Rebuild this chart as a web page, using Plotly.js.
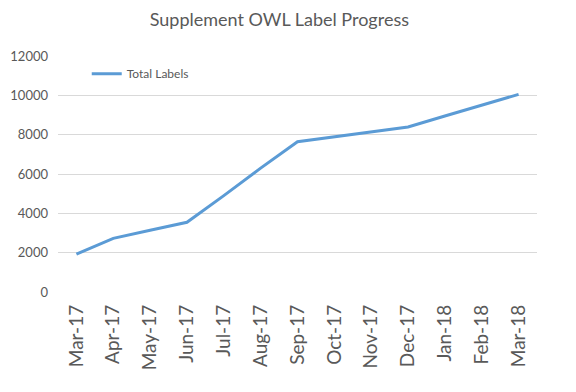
<!DOCTYPE html>
<html><head><meta charset="utf-8">
<script src="https://cdn.plot.ly/plotly-3.0.1.min.js"></script>
<style>html,body{margin:0;padding:0;background:#fff}</style>
</head><body>
<div id="chart" style="width:576px;height:392px"></div>
<script>
const months = ["Mar-17","Apr-17","May-17","Jun-17","Jul-17","Aug-17","Sep-17","Oct-17","Nov-17","Dec-17","Jan-18","Feb-18","Mar-18"];
const totalLabels = [1920, 2730, 3140, 3545, 4900, 6300, 7640, 7900, 8140, 8390, 8950, 9500, 10050];
const yTicks = [0, 2000, 4000, 6000, 8000, 10000, 12000];

const trace = {
  x: months, y: totalLabels, type: 'scatter', mode: 'lines', name: 'Total Labels',
  line: {color: '#5B9BD5', width: 3}
};
const layout = {
  width: 576, height: 392,
  margin: {l: 58, r: 39, t: 56, b: 100},
  paper_bgcolor: '#fff', plot_bgcolor: '#fff',
  font: {family: 'Lato, "Open Sans", sans-serif', color: '#595959'},
  title: {text: 'Supplement OWL Label Progress', font: {size: 18, color: '#595959'}, x: 0.485, xanchor: 'center', y: 0.95, yanchor: 'middle'},
  showlegend: true,
  legend: {x: 0.06, y: 0.925, xanchor: 'left', yanchor: 'middle', font: {size: 12, color: '#595959'}, bgcolor: 'rgba(0,0,0,0)'},
  xaxis: {type: 'category', range: [-0.5, 12.5], tickangle: -90, tickfont: {size: 19, color: '#595959'},
          showgrid: false, showline: false, zeroline: false, ticks: '', fixedrange: true, ticklabelstandoff: 8},
  yaxis: {range: [0, 12000], tickvals: yTicks, ticktext: yTicks.map(String), tickfont: {size: 13, color: '#595959'},
          showgrid: true, gridcolor: '#D9D9D9', gridwidth: 1, zeroline: false, showline: false, ticks: '', ticklen: 0,
          ticklabelstandoff: 9}
};
Plotly.newPlot('chart', [trace], layout, {displayModeBar: false, staticPlot: true});
</script>
</body></html>
